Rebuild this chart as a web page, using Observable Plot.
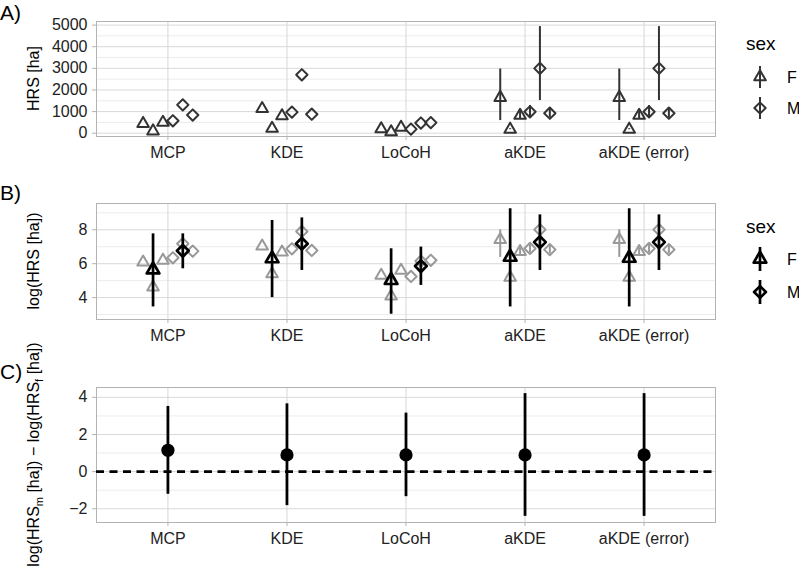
<!DOCTYPE html>
<html><head><meta charset="utf-8">
<script src="https://cdn.jsdelivr.net/npm/d3@7"></script>
<script src="https://cdn.jsdelivr.net/npm/@observablehq/plot@0.6"></script>
<style>
body{margin:0;background:#fff;}
#chart{position:relative;width:799px;height:567px;overflow:hidden;background:#fff;font-family:"Liberation Sans",Arial,Helvetica,sans-serif;}
.panel{position:absolute;left:0;}
#overlay{position:absolute;left:0;top:0;pointer-events:none;}
</style>
</head><body><div id="chart"></div>
<script>
// ---------- data ----------
const categories = ["MCP", "KDE", "LoCoH", "aKDE", "aKDE (error)"];
const animalSex = ["F", "F", "F", "M", "M", "M"];
const sexLevels = ["F", "M"];

// Panel A: home range size [ha] per animal
const hrsMCP = [445, 100, 495, 575, 1310, 840];
const hrsKDE = [1130, 220, 800, 975, 2700, 880];
const hrsLoCoH = [200, 60, 270, 190, 470, 490];
const hrsAKDE = [1650, 180, 820, 990, 3000, 925];
const hrsAKDEerror = [1650, 180, 820, 990, 3000, 925];
const hrsAKDELow = [585, 160, 650, 760, 1510, 720];
const hrsAKDEHigh = [2970, 210, 1030, 1280, 4930, 1180];

// Panel B: log home range size per animal, and sex means
const logMCP = [6.09, 4.62, 6.20, 6.35, 7.18, 6.74];
const logKDE = [7.03, 5.40, 6.68, 6.88, 7.90, 6.78];
const logLoCoH = [5.31, 4.09, 5.60, 5.25, 6.15, 6.20];
const logAKDE = [7.42, 5.19, 6.71, 6.90, 8.01, 6.83];
const logAKDEerror = [7.42, 5.19, 6.71, 6.90, 8.01, 6.83];
const logAKDELow = [6.37, 5.08, 6.48, 6.63, 7.32, 6.58];
const logAKDEHigh = [8.00, 5.35, 6.94, 7.15, 8.50, 7.07];
const meanF = [5.64, 6.30, 5.02, 6.39, 6.33];
const meanFLow = [3.45, 4.00, 3.02, 3.45, 3.45];
const meanFHigh = [7.76, 8.55, 6.88, 9.24, 9.24];
const meanM = [6.76, 7.18, 5.86, 7.27, 7.27];
const meanMLow = [5.70, 5.60, 4.72, 5.60, 5.60];
const meanMHigh = [7.76, 8.70, 6.98, 8.88, 8.88];

// Panel C: difference of log means (male - female)
const diffEst = [1.15, 0.90, 0.90, 0.90, 0.90];
const diffLow = [-1.22, -1.83, -1.35, -2.41, -2.41];
const diffHigh = [3.51, 3.65, 3.15, 4.20, 4.20];

// tick labels
const ticksA = [0, 1000, 2000, 3000, 4000, 5000];
const minorA = [500, 1500, 2500, 3500, 4500];
const ticksB = [4, 6, 8];
const minorB = [3, 5, 7, 9];
const ticksC = [-2, 0, 2, 4];
const minorC = [-1, 1, 3];

// ---------- build tables ----------
const catIdx = d3.range(categories.length);
const dodge = (k, n, w = 0.5) => w * ((k + 0.5) / n - 0.5);
const hrsBy = [hrsMCP, hrsKDE, hrsLoCoH, hrsAKDE, hrsAKDEerror];
const logBy = [logMCP, logKDE, logLoCoH, logAKDE, logAKDEerror];
const withErr = ["aKDE", "aKDE (error)"];

const rowsA = [], rowsB = [];
catIdx.forEach(i => {
  hrsBy[i].forEach((v, k) => {
    const err = withErr.includes(categories[i]);
    rowsA.push({x: i + dodge(k, 6), y: v, sex: animalSex[k],
      lo: err ? hrsAKDELow[k] : null, hi: err ? hrsAKDEHigh[k] : null});
    rowsB.push({x: i + dodge(k, 6), y: logBy[i][k], sex: animalSex[k],
      lo: err ? logAKDELow[k] : null, hi: err ? logAKDEHigh[k] : null});
  });
});
const means = [];
catIdx.forEach(i => {
  means.push({x: i + dodge(0, 2), y: meanF[i], lo: meanFLow[i], hi: meanFHigh[i], sex: "F"});
  means.push({x: i + dodge(1, 2), y: meanM[i], lo: meanMLow[i], hi: meanMHigh[i], sex: "M"});
});
const rowsC = catIdx.map(i => ({x: i, y: diffEst[i], lo: diffLow[i], hi: diffHigh[i]}));

// ---------- plotting ----------
const FONT = '"Liberation Sans", Arial, Helvetica, sans-serif';
const symbolOf = {F: "triangle", M: "diamond2"};
const W = 720;
const TXT = "#222";

function panel({yDomain, major, minor, marginTop, height, marginBottom, marks}) {
  return Plot.plot({
    width: W, height, marginLeft: 96, marginRight: W - 715, marginTop, marginBottom,
    x: {domain: [-0.6, categories.length - 0.4]},
    y: {domain: yDomain},
    style: {fontFamily: FONT, fontSize: "16px", background: "transparent", color: TXT, overflow: "visible"},
    marks: [
      Plot.gridY(minor, {stroke: "#ececec", strokeOpacity: 1, strokeWidth: 1}),
      Plot.gridY(major, {stroke: "#d9d9d9", strokeOpacity: 1, strokeWidth: 1}),
      Plot.gridX(catIdx, {stroke: "#d6d6d6", strokeOpacity: 1, strokeWidth: 1}),
      Plot.frame({stroke: "#b3b3b3", strokeWidth: 1}),
      Plot.axisY(major, {tickSize: 4, tickPadding: 5, stroke: "#b3b3b3", fill: TXT, fontSize: 16, label: null,
        tickFormat: d => String(d).replace("-", "\u2212")}),
      Plot.axisX(catIdx, {tickSize: 4, tickPadding: 6, stroke: "#b3b3b3", fill: TXT, fontSize: 16, label: null,
        tickFormat: i => categories[i]}),
      ...marks
    ]
  });
}

const plotA = panel({
  yDomain: [-152, 5166], major: ticksA, minor: minorA, marginTop: 21, height: 166, marginBottom: 30,
  marks: [
    Plot.ruleX(rowsA.filter(d => d.lo != null), {x: "x", y1: "lo", y2: "hi", stroke: "#333", strokeWidth: 2}),
    Plot.dot(rowsA.filter(d => d.sex === "F"), {x: "x", y: "y", symbol: symbolOf.F, r: 4.3, stroke: "#333", strokeWidth: 2, strokeLinejoin: "round"}),
    Plot.dot(rowsA.filter(d => d.sex === "M"), {x: "x", y: "y", symbol: symbolOf.M, r: 5.1, stroke: "#333", strokeWidth: 2, strokeLinejoin: "round"})
  ]
});

const plotB = panel({
  yDomain: [2.71, 9.55], major: ticksB, minor: minorB, marginTop: 23, height: 170, marginBottom: 31,
  marks: [
    Plot.ruleX(rowsB.filter(d => d.lo != null), {x: "x", y1: "lo", y2: "hi", stroke: "#999", strokeWidth: 2}),
    Plot.dot(rowsB.filter(d => d.sex === "F"), {x: "x", y: "y", symbol: symbolOf.F, r: 4.3, stroke: "#999", strokeWidth: 2, strokeLinejoin: "round"}),
    Plot.dot(rowsB.filter(d => d.sex === "M"), {x: "x", y: "y", symbol: symbolOf.M, r: 5.1, stroke: "#999", strokeWidth: 2, strokeLinejoin: "round"}),
    Plot.ruleX(means, {x: "x", y1: "lo", y2: "hi", stroke: "#000", strokeWidth: 2.7}),
    Plot.dot(means.filter(d => d.sex === "F"), {x: "x", y: "y", symbol: symbolOf.F, r: 4.7, stroke: "#000", strokeWidth: 2.7, strokeLinejoin: "round"}),
    Plot.dot(means.filter(d => d.sex === "M"), {x: "x", y: "y", symbol: symbolOf.M, r: 5.3, stroke: "#000", strokeWidth: 2.7, strokeLinejoin: "round"})
  ]
});

const plotC = panel({
  yDomain: [-2.74, 4.53], major: ticksC, minor: minorC, marginTop: 27, height: 197, marginBottom: 35,
  marks: [
    Plot.ruleY([0], {stroke: "#000", strokeWidth: 2.6, strokeDasharray: "8,5.5"}),
    Plot.ruleX(rowsC, {x: "x", y1: "lo", y2: "hi", stroke: "#000", strokeWidth: 2.8}),
    Plot.dot(rowsC, {x: "x", y: "y", r: 6.6, fill: "#000", stroke: "none"})
  ]
});

const chart = document.getElementById("chart");
[[plotA, 0], [plotB, 180], [plotC, 360]].forEach(([p, top]) => {
  p.classList.add("panel");
  p.style.position = "absolute";
  p.style.top = top + "px";
  p.style.left = "0px";
  chart.appendChild(p);
});

// ---------- annotations: tags, axis titles, legends ----------
const svg = d3.select(chart).append("svg").attr("id", "overlay")
  .attr("width", 799).attr("height", 567)
  .style("font-family", FONT);

[["A)", 20], ["B)", 200], ["C)", 379]].forEach(([t, y]) => {
  svg.append("text").attr("x", 0).attr("y", y).attr("font-size", 21).attr("fill", "#000").text(t);
});

function yTitle(cy, build) {
  const t = svg.append("text")
    .attr("transform", `translate(33,${cy}) rotate(-90)`)
    .attr("text-anchor", "middle").attr("dy", "0.36em")
    .attr("font-size", 16).attr("fill", "#000");
  build(t);
}
yTitle(78.5, t => t.text("HRS [ha]"));
yTitle(261, t => t.text("log(HRS [ha])"));
yTitle(454.5, t => {
  t.append("tspan").text("log(HRS");
  t.append("tspan").attr("dy", 4).attr("font-size", 11).text("m");
  t.append("tspan").attr("dy", -4).text(" [ha]) \u2212 log(HRS");
  t.append("tspan").attr("dy", 4).attr("font-size", 11).text("f");
  t.append("tspan").attr("dy", -4).text(" [ha])");
});

function legend({titleY, keyYs, color, sw, rs, lineHalf}) {
  const g = svg.append("g");
  g.append("text").attr("x", 746).attr("y", titleY).attr("font-size", 19).attr("fill", "#000").text("sex");
  sexLevels.forEach((s, j) => {
    const cy = keyYs[j];
    const type = s === "F" ? d3.symbolTriangle : d3.symbolDiamond2;
    g.append("line").attr("x1", 760).attr("x2", 760).attr("y1", cy - lineHalf).attr("y2", cy + lineHalf)
      .attr("stroke", color).attr("stroke-width", sw);
    g.append("path").attr("transform", `translate(760,${cy})`)
      .attr("d", d3.symbol(type, Math.PI * rs[j] * rs[j])())
      .attr("fill", "none").attr("stroke", color).attr("stroke-width", sw).attr("stroke-linejoin", "round");
    g.append("text").attr("x", 787).attr("y", cy).attr("dy", "0.36em").attr("font-size", 16).attr("fill", "#000").text(s);
  });
}
legend({titleY: 50, keyYs: [77, 108], color: "#333", sw: 2, rs: [4.3, 5.1], lineHalf: 11});
legend({titleY: 233, keyYs: [259, 292], color: "#000", sw: 2.7, rs: [4.7, 5.3], lineHalf: 12});
</script>
</body></html>
